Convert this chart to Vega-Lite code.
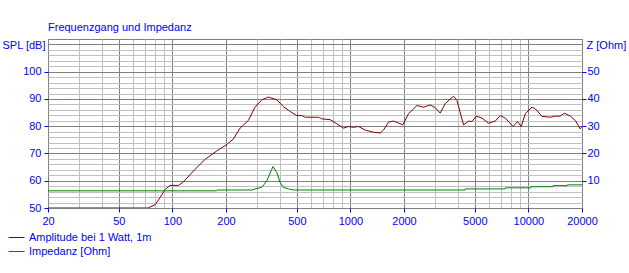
{
  "$schema": "https://vega.github.io/schema/vega-lite/v6.json",
  "width": 534,
  "height": 169,
  "autosize": {"type": "none"},
  "padding": {"left": 48, "top": 39, "right": 47, "bottom": 65},
  "background": "white",
  "title": {
    "text": "Frequenzgang und Impedanz",
    "anchor": "start",
    "frame": "group",
    "font": "Liberation Sans",
    "fontSize": 11,
    "fontWeight": "normal",
    "color": "#0000FF",
    "baseline": "alphabetic",
    "offset": -3
  },
  "config": {
    "view": {"stroke": "#808080", "strokeWidth": 1},
    "axis": {
      "labelFont": "Liberation Sans",
      "labelFontSize": 11,
      "labelColor": "#0000FF",
      "titleFont": "Liberation Sans",
      "titleFontSize": 11,
      "titleFontWeight": "normal",
      "titleColor": "#0000FF",
      "tickColor": "#0000FF",
      "tickSize": 4,
      "domain": false
    },
    "legend": {
      "labelFont": "Liberation Sans",
      "labelFontSize": 11,
      "labelColor": "#0000FF"
    }
  },
  "datasets": {
    "spl": [
      {"f": 20, "spl": 50}, {"f": 73, "spl": 50}, {"f": 80, "spl": 51.2}, {"f": 85, "spl": 53.7},
      {"f": 91, "spl": 56.8}, {"f": 97, "spl": 58.3}, {"f": 108, "spl": 58.3}, {"f": 115, "spl": 59.5},
      {"f": 134, "spl": 64.2}, {"f": 153, "spl": 67.9}, {"f": 178, "spl": 71}, {"f": 200, "spl": 73.1},
      {"f": 220, "spl": 75.3}, {"f": 240, "spl": 79.3}, {"f": 267, "spl": 82.1}, {"f": 291, "spl": 87},
      {"f": 318, "spl": 89.7}, {"f": 346, "spl": 90.7}, {"f": 386, "spl": 89.7}, {"f": 420, "spl": 87.2},
      {"f": 459, "spl": 85.4}, {"f": 500, "spl": 83.9}, {"f": 534, "spl": 83.9}, {"f": 557, "spl": 83.3},
      {"f": 661, "spl": 83.3}, {"f": 691, "spl": 82.7}, {"f": 769, "spl": 82.4}, {"f": 839, "spl": 80.9},
      {"f": 914, "spl": 79.3}, {"f": 975, "spl": 79.9}, {"f": 1040, "spl": 79.6}, {"f": 1110, "spl": 79.9},
      {"f": 1210, "spl": 78.6}, {"f": 1348, "spl": 77.8}, {"f": 1470, "spl": 77.5}, {"f": 1534, "spl": 78.6},
      {"f": 1637, "spl": 81.5}, {"f": 1746, "spl": 81.9}, {"f": 1862, "spl": 81.2}, {"f": 1970, "spl": 80.5},
      {"f": 2120, "spl": 84.6}, {"f": 2216, "spl": 85.8}, {"f": 2364, "spl": 87.6}, {"f": 2575, "spl": 87},
      {"f": 2808, "spl": 87.8}, {"f": 2996, "spl": 86.8}, {"f": 3196, "spl": 84.8}, {"f": 3409, "spl": 88.3},
      {"f": 3795, "spl": 91}, {"f": 3966, "spl": 89.5}, {"f": 4320, "spl": 80.5}, {"f": 4610, "spl": 81.9},
      {"f": 4817, "spl": 81.7}, {"f": 5092, "spl": 83.7}, {"f": 5484, "spl": 83}, {"f": 5970, "spl": 81.1},
      {"f": 6511, "spl": 81.9}, {"f": 6946, "spl": 83.9}, {"f": 7413, "spl": 83}, {"f": 8188, "spl": 79.9},
      {"f": 8690, "spl": 81.7}, {"f": 9118, "spl": 79.9}, {"f": 9602, "spl": 84.6}, {"f": 10472, "spl": 87},
      {"f": 10929, "spl": 86.4}, {"f": 11924, "spl": 83.6}, {"f": 13270, "spl": 83.3}, {"f": 14158, "spl": 83.7},
      {"f": 15102, "spl": 83.7}, {"f": 15908, "spl": 84.8}, {"f": 17193, "spl": 83.7}, {"f": 18342, "spl": 82.1},
      {"f": 19562, "spl": 79}, {"f": 20000, "spl": 80}
    ],
    "imp": [
      {"f": 20, "z": 6.3}, {"f": 177, "z": 6.3}, {"f": 178, "z": 6.6}, {"f": 280, "z": 6.6},
      {"f": 291, "z": 7.0}, {"f": 318, "z": 7.6}, {"f": 339, "z": 9.9}, {"f": 367, "z": 15.2},
      {"f": 386, "z": 13.0}, {"f": 403, "z": 9.3}, {"f": 420, "z": 7.6}, {"f": 449, "z": 7.0},
      {"f": 478, "z": 6.6}, {"f": 4400, "z": 6.6}, {"f": 4420, "z": 7.0}, {"f": 7400, "z": 7.0},
      {"f": 7450, "z": 7.4}, {"f": 10300, "z": 7.4}, {"f": 10350, "z": 7.8}, {"f": 13700, "z": 7.8},
      {"f": 13750, "z": 8.2}, {"f": 16500, "z": 8.2}, {"f": 16550, "z": 8.5}, {"f": 20000, "z": 8.5}
    ]
  },
  "layer": [
    {
      "data": {"name": "spl"},
      "mark": {"type": "line", "strokeWidth": 1, "clip": true},
      "encoding": {
        "x": {
          "field": "f",
          "type": "quantitative",
          "scale": {"type": "log", "domain": [20, 20000]},
          "axis": {
            "title": null,
            "values": [20, 30, 40, 50, 60, 70, 80, 90, 100, 200, 300, 400, 500, 600, 700, 800, 900, 1000, 2000, 3000, 4000, 5000, 6000, 7000, 8000, 9000, 10000, 20000],
            "labelExpr": "indexof([20,50,100,200,500,1000,2000,5000,10000,20000], datum.value) >= 0 ? format(datum.value, 'd') : ''",
            "labelPadding": 3,
            "labelFlush": false,
            "labelOverlap": false,
            "grid": true,
            "gridColor": {"condition": {"test": "indexof([20,50,100,200,500,1000,2000,5000,10000,20000], datum.value) >= 0", "value": "#808080"}, "value": "#c0c0c0"},
            "tickOpacity": {"condition": {"test": "indexof([20,50,100,200,500,1000,2000,5000,10000,20000], datum.value) >= 0", "value": 1}, "value": 0}
          }
        },
        "y": {
          "field": "spl",
          "type": "quantitative",
          "scale": {"domain": [50, 112], "nice": false, "zero": false},
          "axis": {
            "orient": "left",
            "title": "SPL [dB]",
            "titleAngle": 0,
            "titleAlign": "left",
            "titleBaseline": "middle",
            "titleX": -46,
            "titleY": 6,
            "values": [50, 52, 54, 56, 58, 60, 62, 64, 66, 68, 70, 72, 74, 76, 78, 80, 82, 84, 86, 88, 90, 92, 94, 96, 98, 100, 102, 104, 106, 108, 110],
            "labelExpr": "datum.value % 10 === 0 && datum.value <= 100 ? datum.label : ''",
            "labelPadding": 3,
            "grid": true,
            "gridColor": {"condition": {"test": "datum.value % 10 === 0", "value": "#808080"}, "value": "#c0c0c0"},
            "tickOpacity": {"condition": {"test": "datum.value % 10 === 0 && datum.value <= 100", "value": 1}, "value": 0}
          }
        },
        "color": {
          "datum": "Amplitude bei 1 Watt, 1m",
          "type": "nominal",
          "scale": {"domain": ["Amplitude bei 1 Watt, 1m", "Impedanz [Ohm]"], "range": ["#800000", "#008000"]},
          "legend": {
            "title": null,
            "orient": "none",
            "legendX": -40,
            "legendY": 190,
            "symbolType": "stroke",
            "symbolSize": 256,
            "symbolStrokeWidth": 1,
            "labelOffset": 4,
            "rowPadding": 0,
            "padding": 0
          }
        }
      }
    },
    {
      "data": {"name": "imp"},
      "mark": {"type": "line", "strokeWidth": 1, "clip": true},
      "encoding": {
        "x": {"field": "f", "type": "quantitative", "scale": {"type": "log", "domain": [20, 20000]}},
        "y": {
          "field": "z",
          "type": "quantitative",
          "scale": {"domain": [0, 62], "nice": false, "zero": false},
          "axis": {
            "orient": "right",
            "title": "Z [Ohm]",
            "titleAngle": 0,
            "titleAlign": "left",
            "titleBaseline": "middle",
            "titleX": 4,
            "titleY": 6,
            "values": [10, 20, 30, 40, 50],
            "labelPadding": 1,
            "grid": false
          }
        },
        "color": {"datum": "Impedanz [Ohm]", "type": "nominal"}
      }
    }
  ],
  "resolve": {"scale": {"y": "independent"}}
}
